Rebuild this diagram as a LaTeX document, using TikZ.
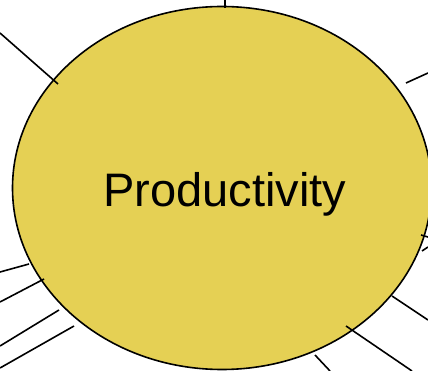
\documentclass[tikz,border=0pt]{standalone}
\usepackage{fontspec}
\setmainfont{Liberation Sans}
\usepackage{tikz}
\usetikzlibrary{shapes.geometric,positioning}

\definecolor{hubyellow}{RGB}{229,208,84}

\begin{document}
\begin{tikzpicture}[
    x=1pt, y=-1pt,
    hub/.style={ellipse, draw, line width=1.6pt, fill=hubyellow, minimum width=419pt, minimum height=363pt, inner sep=0pt},
    title/.style={font=\fontsize{47}{52}\selectfont, inner sep=0pt},
    spoke/.style={line width=1.6pt}
]
\useasboundingbox (0,0) rectangle (428,371);

\node[hub] (prod) at (222,188) {};
\node[title] (label) at (225,194) {Productivity};

% free ends of the spokes, outside the picture edge
\coordinate (n1o) at (0,33);    \coordinate (n1i) at (58,84);
\coordinate (n2o) at (225,0);   \coordinate (n2i) at (225,8);
\coordinate (n3o) at (428,73);  \coordinate (n3i) at (406,83);
\coordinate (n4o) at (428,237); \coordinate (n4i) at (421,235);
\coordinate (n5o) at (428,247); \coordinate (n5i) at (422,251);
\coordinate (n6o) at (428,320); \coordinate (n6i) at (392,296);
\coordinate (n7o) at (412,371); \coordinate (n7i) at (346,326);
\coordinate (n8o) at (330,371); \coordinate (n8i) at (315,355);
\coordinate (n9o) at (0,272);   \coordinate (n9i) at (29,264);
\coordinate (n10o) at (0,302);  \coordinate (n10i) at (44,279);
\coordinate (n11o) at (0,346);  \coordinate (n11i) at (59,310);
\coordinate (n12o) at (0,368);  \coordinate (n12i) at (74,326);

\foreach \k in {1,...,12}
    \draw[spoke] (n\k o) -- (n\k i);

\end{tikzpicture}
\end{document}
